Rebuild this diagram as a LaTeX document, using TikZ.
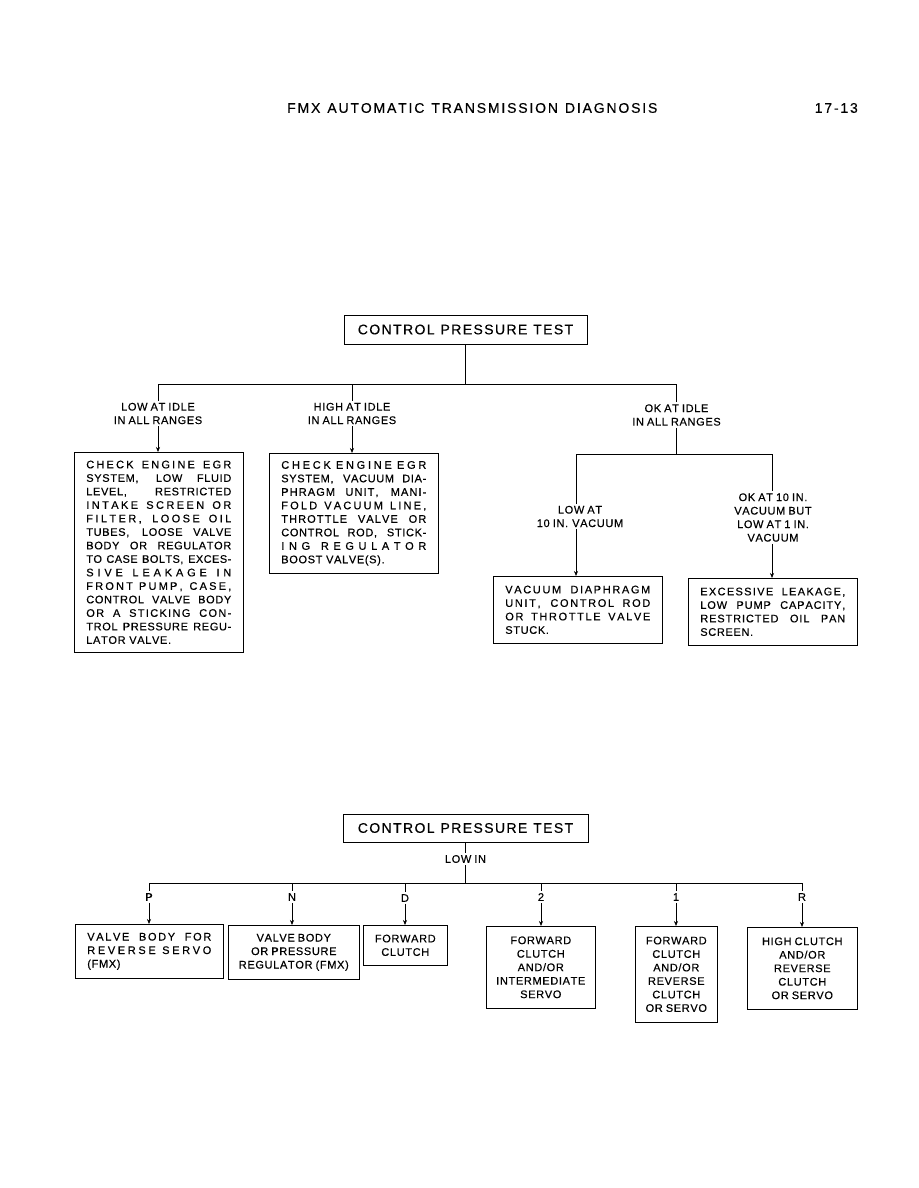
\documentclass[tikz,border=0pt]{standalone}
\usepackage{fontspec}
\setmainfont{Liberation Sans}[FakeBold=0.4,AutoFakeBold=0.4]
\usetikzlibrary{arrows.meta}
% tracking between letters
\XeTeXinterchartokenstate=1
\newcommand\trkf{0.06}
\XeTeXinterchartoks 0 0 = {\kern\trkf em\relax}
\newcommand\boxfont{\fontsize{11}{13.5}\selectfont}
\newcommand\titlefont{\fontsize{14}{16}\selectfont\def\trkf{0.1}\spaceskip=.42em\relax}
\newcommand\hdfont{\fontsize{14}{16}\selectfont\def\trkf{0.13}\spaceskip=.5em\relax}
% one justified line, optional tracking
\newcommand\jline[2][0.06]{\makebox[\linewidth][s]{\def\trkf{#1}\spaceskip=.28em plus 1fil\relax #2}}
\begin{document}
\begin{tikzpicture}[x=1pt,y=-1pt,
  conn/.style={line width=0.6pt},
  arr/.style={conn,-{Stealth[length=5pt,width=4pt]}},
  title/.style={draw,line width=0.6pt,font=\titlefont,minimum width=243pt,minimum height=29pt,inner sep=0pt},
  lab/.style={font=\boxfont,align=center,inner sep=2pt},
  jbox/.style={draw,line width=0.6pt,anchor=north west,font=\boxfont,align=left,inner xsep=12pt,inner ysep=0pt},
  cbox/.style={draw,line width=0.6pt,anchor=north west,font=\boxfont,align=center,inner sep=0pt}]
\useasboundingbox (0,0) rectangle (918,1188);

% page header
\node[anchor=west,font=\hdfont,inner sep=0pt] (head) at (287,108) {FMX AUTOMATIC TRANSMISSION DIAGNOSIS};
\node[anchor=east,font=\hdfont,inner sep=0pt] (page) at (858,108) {17-13};

% upper chart
\node[title] (cpt) at (465.5,329.5) {CONTROL PRESSURE TEST};
\coordinate (j1) at (465.5,384);
\node[lab] (lowidle) at (158,413.5) {LOW AT IDLE\\IN ALL RANGES};
\node[lab] (highidle) at (352,413.5) {HIGH AT IDLE\\IN ALL RANGES};
\node[lab] (okidle) at (676.5,415) {OK AT IDLE\\IN ALL RANGES};
\draw[conn] (cpt.south) -- (j1);
\draw[conn] (lowidle.north) -- (lowidle.north |- j1) -- (okidle.north |- j1) -- (okidle.north);
\draw[conn] (highidle.north |- j1) -- (highidle.north);

\node[jbox,text width=145pt,minimum height=200pt] (lowbox) at (74,452) {%
\jline[0.2]{CHECK ENGINE EGR}\\
\jline{SYSTEM, LOW FLUID}\\
\jline{LEVEL, RESTRICTED}\\
\jline[0.22]{INTAKE SCREEN OR}\\
\jline[0.22]{FILTER, LOOSE OIL}\\
\jline{TUBES, LOOSE VALVE}\\
\jline{BODY OR REGULATOR}\\
\jline[0.04]{TO CASE BOLTS, EXCES-}\\
\jline[0.35]{SIVE LEAKAGE IN}\\
\jline[0.2]{FRONT PUMP, CASE,}\\
\jline{CONTROL VALVE BODY}\\
\jline[0.12]{OR A STICKING CON-}\\
\jline{TROL PRESSURE REGU-}\\
LATOR VALVE.};
\node[jbox,text width=145pt,minimum height=120pt] (highbox) at (269,453) {%
\jline[0.25]{CHECK ENGINE EGR}\\
\jline{SYSTEM, VACUUM DIA-}\\
\jline[0.1]{PHRAGM UNIT, MANI-}\\
\jline[0.2]{FOLD VACUUM LINE,}\\
\jline[0.1]{THROTTLE VALVE OR}\\
\jline{CONTROL ROD, STICK-}\\
\jline[0.42]{ING REGULATOR}\\
BOOST VALVE(S).};
\draw[arr] (lowidle.south) -- (lowidle.south |- lowbox.north);
\draw[arr] (highidle.south) -- (highidle.south |- highbox.north);

% ok at idle branch
\coordinate (j2) at (676.5,454);
\coordinate (jl) at (576,454);
\coordinate (jr) at (772,454);
\draw[conn] (okidle.south) -- (j2);
\draw[conn] (jl) -- (jr);
\node[lab] (lowvac) at (580,516.5) {LOW AT\\10 IN. VACUUM};
\node[lab] (okvac) at (773,517.5) {OK AT 10 IN.\\VACUUM BUT\\LOW AT 1 IN.\\VACUUM};
\node[jbox,text width=145pt,minimum height=67pt] (vacbox) at (493,576) {%
\jline[0.15]{VACUUM DIAPHRAGM}\\
\jline[0.15]{UNIT, CONTROL ROD}\\
\jline[0.15]{OR THROTTLE VALVE}\\
STUCK.};
\node[jbox,text width=145pt,minimum height=67pt] (leakbox) at (688,578) {%
\jline[0.12]{EXCESSIVE LEAKAGE,}\\
\jline[0.08]{LOW PUMP CAPACITY,}\\
\jline[0.08]{RESTRICTED OIL PAN}\\
SCREEN.};
\draw[conn] (jl) -- (jl |- lowvac.north);
\draw[arr] (jl |- lowvac.south) -- (jl |- vacbox.north);
\draw[conn] (jr) -- (jr |- okvac.north);
\draw[arr] (jr |- okvac.south) -- (jr |- leakbox.north);

% lower chart
\node[title,minimum width=245pt,minimum height=28pt] (cpt2) at (465.5,828) {CONTROL PRESSURE TEST};
\node[lab] (lowin) at (465.5,859) {LOW IN};
\coordinate (j3) at (465.5,883);
\draw[conn] (cpt2.south) -- (lowin.north);
\draw[conn] (lowin.south) -- (j3);
\node[lab] (p-lab) at (149,897) {P};
\node[lab] (n-lab) at (292,897) {N};
\node[lab] (d-lab) at (405,898) {D};
\node[lab] (two-lab) at (541,897) {2};
\node[lab] (one-lab) at (676,897) {1};
\node[lab] (r-lab) at (802,897) {R};
\draw[conn] (p-lab.north |- j3) -- (r-lab.north |- j3);

\node[jbox,text width=124pt,minimum height=54pt] (p) at (75,924) {%
\jline[0.15]{VALVE BODY FOR}\\
\jline[0.24]{REVERSE SERVO}\\
(FMX)};
\node[cbox,minimum width=131pt,minimum height=54pt] (n) at (228,925) {VALVE BODY\\OR PRESSURE\\REGULATOR (FMX)};
\node[cbox,minimum width=84pt,minimum height=40pt] (d) at (363,925) {FORWARD\\CLUTCH};
\node[cbox,minimum width=109pt,minimum height=82pt] (two) at (486,926) {FORWARD\\CLUTCH\\AND/OR\\INTERMEDIATE\\SERVO};
\node[cbox,minimum width=82pt,minimum height=96pt] (one) at (635,926) {FORWARD\\CLUTCH\\AND/OR\\REVERSE\\CLUTCH\\OR SERVO};
\node[cbox,minimum width=110pt,minimum height=82pt] (r) at (747,927) {HIGH CLUTCH\\AND/OR\\REVERSE\\CLUTCH\\OR SERVO};

\foreach \b in {p,n,d,two,one,r}{
  \draw[conn] (\b-lab.north |- j3) -- (\b-lab.north);
  \draw[arr] (\b-lab.south) -- (\b-lab.south |- \b.north);
}
\end{tikzpicture}
\end{document}
